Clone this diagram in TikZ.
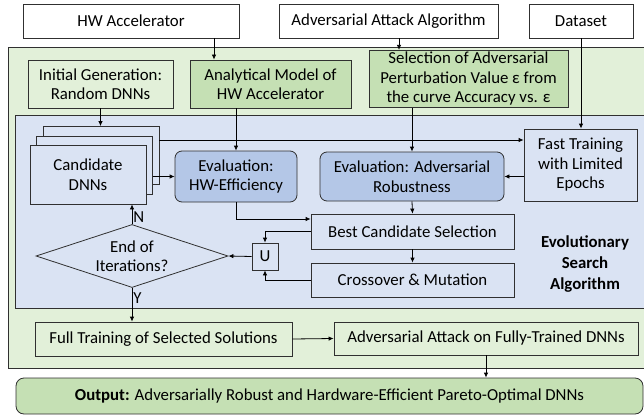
\documentclass[tikz,border=0pt]{standalone}
\usepackage{fontspec}
\setmainfont{Carlito}
\usetikzlibrary{arrows.meta,shapes.geometric,calc}
\definecolor{lgreen}{HTML}{E2F0D9}
\definecolor{mgreen}{HTML}{C5E0B4}
\definecolor{lblue}{HTML}{DAE3F3}
\definecolor{mblue}{HTML}{B4C7E7}
\definecolor{edge}{HTML}{303030}
\begin{document}
\begin{tikzpicture}[x=1pt,y=-1pt,
  font=\fontsize{16.8}{19.5}\selectfont,
  box/.style={draw=edge,line width=0.8pt,inner sep=2pt,align=center},
  wbox/.style={box,fill=white},
  gbox/.style={box,fill=mgreen},
  lgbox/.style={box,fill=lgreen},
  bbox/.style={box,fill=lblue},
  rbox/.style={box,fill=mblue,rounded corners=7pt},
  arr/.style={draw=black,line width=0.8pt,-{Latex[length=5pt,width=4.5pt]}},
  lab/.style={inner sep=1pt}]
\useasboundingbox (0,0) rectangle (644,417);
% regions
\path[fill=lgreen,draw=edge,line width=1pt] (8,48) rectangle (650,368);
\path[fill=lblue,draw=edge,line width=1pt] (15,115) rectangle (650,308);
% top inputs
\node[wbox,minimum width=216,minimum height=34] (hw) at (131,21) {HW Accelerator};
\node[wbox,minimum width=219,minimum height=34] (adv) at (388.5,21) {Adversarial Attack Algorithm};
\node[wbox,minimum width=104,minimum height=34] (data) at (581,21) {Dataset};
% green row
\node[lgbox,minimum width=145,minimum height=48] (init) at (100.5,84) {Initial Generation:\\Random DNNs};
\node[gbox,minimum width=161,minimum height=48] (anal) at (270.5,84) {Analytical Model of\\HW Accelerator};
\node[gbox,minimum width=199,minimum height=56] (sel) at (468.5,79) {Selection of Adversarial\\Perturbation Value ε from\\the curve Accuracy vs. ε};
% candidate stack
\node[bbox,minimum width=116,minimum height=58] (c3) at (101,155.5) {};
\node[bbox,minimum width=116,minimum height=58] (c2) at (94.5,165.5) {};
\node[bbox,minimum width=116,minimum height=59] (c1) at (88,174.5) {Candidate\\DNNs};
% evaluations
\node[rbox,minimum width=122,minimum height=51] (evhw) at (236,176.5) {Evaluation:\\HW-Efficiency};
\node[rbox,minimum width=184,minimum height=49] (evadv) at (412,176.5) {Evaluation: Adversarial\\Robustness};
\node[bbox,minimum width=113,minimum height=72] (fast) at (580.5,165) {Fast Training\\with Limited\\Epochs};
\node[bbox,minimum width=203,minimum height=35] (best) at (412.5,231.5) {Best Candidate Selection};
\node[bbox,minimum width=203,minimum height=34] (cross) at (412.5,280) {Crossover \& Mutation};
\node[bbox,minimum width=26,minimum height=27,inner sep=0pt] (U) at (265,256.5) {U};
\node[diamond,draw=edge,fill=lblue,line width=0.8pt,minimum width=192,minimum height=63,inner sep=0pt] (dia) at (132,256) {};
\node[align=center,inner sep=0pt] (diatext) at (dia) {End of\\Iterations?};
\node[align=center,font=\fontsize{16.8}{21}\selectfont\bfseries] (evo) at (585,264) {Evolutionary\\Search\\Algorithm};
% bottom
\node[lgbox,minimum width=257,minimum height=34] (full) at (163.5,339) {Full Training of Selected Solutions};
\node[lgbox,minimum width=304,minimum height=33] (att) at (486,338.5) {Adversarial Attack on Fully-Trained DNNs};
\node[gbox,minimum width=627,minimum height=36,rounded corners=8pt] (out) at (329.5,396) {\textbf{Output:} Adversarially Robust and Hardware-Efficient Pareto-Optimal DNNs};
% connectors
\draw[arr] (hw.south -| 214,0) -- (anal.north -| 214,0);
\draw[arr] (adv.south -| 399,0) -- (sel.north -| 399,0);
\draw[arr] (data.south) -- (data.south |- fast.north);
\draw[arr] (init.south) -- (init.south |- c3.north);
\draw[arr] (evhw.north |- anal.south) -- (evhw.north);
\draw[arr] (evadv.north |- sel.south) -- (evadv.north);
\draw[arr] (c3.east |- 0,140) -- (fast.west |- 0,140);
\draw[arr] (c2.east |- evhw.west) -- (evhw.west);
\draw[arr] (fast.west |- evadv.east) -- (evadv.east);
\draw[arr] (evhw.south) |- ([yshift=12.5pt]best.west);
\draw[arr] (evadv.south) -- (best.north);
\draw[arr] (best.south) -- (cross.north);
\draw[arr] (best.west) -| (U.north);
\draw[arr] (cross.west) -| (U.south);
\draw[arr] (U.west) -- (dia.east);
\draw[arr] (dia.north) -- node[lab,pos=0.35,right] {N} (dia.north |- c1.south);
\draw[arr] (dia.south) -- node[lab,pos=0.3,right] {Y} (dia.south |- full.north);
\draw[arr] (full.east) -- (att.west);
\draw[arr] (att.south) -- (att.south |- out.north);
\end{tikzpicture}
\end{document}
